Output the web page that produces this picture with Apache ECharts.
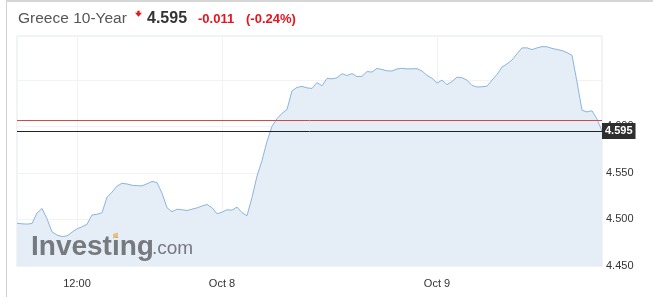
<!DOCTYPE html>
<html>
<head>
<meta charset="utf-8">
<script src="https://cdn.jsdelivr.net/npm/echarts@6/dist/echarts.min.js"></script>
<style>
html,body{margin:0;padding:0;background:#fff;}
#c{width:653px;height:297px;}
</style>
</head>
<body>
<div id="c"></div>
<script>
// ---- data ----
var yieldValues = [
4.4959,4.4953,4.4950,4.4956,4.5069,4.5118,4.5007,4.4867,4.4832,4.4816,
4.4824,4.4862,4.4899,4.4921,4.4948,4.5048,4.5055,4.5072,4.5239,4.5293,
4.5358,4.5388,4.5381,4.5367,4.5363,4.5361,4.5383,4.5408,4.5396,4.5282,
4.5126,4.5083,4.5110,4.5104,4.5096,4.5110,4.5124,4.5144,4.5161,4.5126,
4.5061,4.5078,4.5104,4.5100,4.5133,4.5073,4.5040,4.5236,4.5466,4.5633,
4.5838,4.6000,4.6082,4.6140,4.6181,4.6382,4.6418,4.6429,4.6413,4.6407,
4.6470,4.6435,4.6516,4.6510,4.6521,4.6565,4.6545,4.6567,4.6534,4.6537,
4.6588,4.6583,4.6622,4.6610,4.6596,4.6594,4.6616,4.6623,4.6617,4.6618,
4.6619,4.6594,4.6547,4.6517,4.6464,4.6496,4.6448,4.6481,4.6528,4.6522,
4.6495,4.6439,4.6422,4.6425,4.6431,4.6496,4.6557,4.6637,4.6670,4.6712,
4.6780,4.6842,4.6843,4.6824,4.6842,4.6856,4.6854,4.6837,4.6825,4.6814,
4.6791,4.6763,4.6477,4.6172,4.6155,4.6167,4.6078,4.5950
];
var tickLabels = ['12:00', 'Oct 8', 'Oct 9'];
var tickIndex = [12, 41, 84];
var yTickLabels = ['4.450', '4.500', '4.550', '4.600'];
var lastValue = 4.595;
var prevClose = 4.606;
var titleText = 'Greece 10-Year';
var priceText = '4.595';
var changeText = '-0.011';
var changePctText = '(-0.24%)';

var categories = yieldValues.map(function (v, i) {
  var k = tickIndex.indexOf(i);
  return k >= 0 ? tickLabels[k] : String(i);
});

var FONT = 'Arial, "Liberation Sans", sans-serif';
var chart = echarts.init(document.getElementById('c'), null, {renderer: 'canvas'});
chart.setOption({
  animation: false,
  backgroundColor: '#fff',
  grid: {left: 17, right: 51, top: 36, bottom: 31, show: true, borderColor: '#e3e8ef', borderWidth: 1, backgroundColor: 'transparent'},
  xAxis: {
    type: 'category',
    data: categories,
    boundaryGap: false,
    axisLine: {show: false},
    axisTick: {show: false},
    axisLabel: {
      interval: function (i) { return tickIndex.indexOf(i) >= 0; },
      color: '#333', fontSize: 11, fontFamily: FONT, margin: 12
    },
    splitLine: {
      show: true,
      interval: function (i) { return tickIndex.indexOf(i) >= 0; },
      lineStyle: {color: '#f0f2f5', width: 1}
    }
  },
  yAxis: {
    type: 'value',
    position: 'right',
    min: 4.45,
    max: 4.697,
    interval: 0.05,
    axisLine: {show: false},
    axisTick: {show: false},
    axisLabel: {
      color: '#333', fontSize: 11, fontFamily: FONT, margin: 4,
      formatter: function (v) {
        var s = v.toFixed(3);
        return yTickLabels.indexOf(s) >= 0 ? s : '';
      }
    },
    splitLine: {show: true, lineStyle: {color: '#f0f2f5', width: 1}}
  },
  series: [{
    type: 'line',
    data: yieldValues,
    symbol: 'none',
    smooth: false,
    lineStyle: {color: '#8cb5dd', width: 1},
    areaStyle: {color: '#e5edf6', opacity: 1},
    z: 2,
    markLine: {
      silent: true,
      symbol: 'none',
      animation: false,
      precision: 4,
      lineStyle: {color: '#222', width: 1, type: 'solid'},
      label: {show: true, position: 'end', distance: 0, formatter: priceText,
            color: '#fff', backgroundColor: '#2e2e2e', padding: [3, 3, 2, 3],
            fontSize: 11, fontWeight: 'bold', fontFamily: FONT},
      data: [{yAxis: lastValue}]
    }
  }, {
    type: 'line',
    data: [],
    symbol: 'none',
    z: 3,
    markLine: {
      silent: true,
      symbol: 'none',
      animation: false,
      precision: 4,
      lineStyle: {color: '#d0494b', width: 1, type: 'solid'},
      label: {show: false},
      data: [{yAxis: prevClose}]
    }
  }],
  graphic: [
    {type: 'line', shape: {x1: 6.5, y1: 0, x2: 6.5, y2: 297}, style: {stroke: '#cfcfcf', lineWidth: 1}, z: 10},
    {type: 'line', shape: {x1: 6, y1: 1, x2: 653, y2: 1}, style: {stroke: '#d6d6d6', lineWidth: 2}, z: 10},
    {type: 'text', x: 18, y: 19, z: 10, style: {text: titleText, fontSize: 15.5, fontFamily: FONT, fill: '#555', verticalAlign: 'middle'}},
    {type: 'polygon', z: 10, shape: {points: [[137.3, 10.7], [139.7, 10.7], [139.7, 12.8], [142, 12.8], [138.5, 16.7], [135, 12.8], [137.3, 12.8]]}, style: {fill: '#e8141d'}},
    {type: 'text', x: 147, y: 19, z: 10, style: {text: priceText, fontSize: 16, fontWeight: 'bold', fontFamily: FONT, fill: '#333', verticalAlign: 'middle'}},
    {type: 'text', x: 198, y: 19, z: 10, style: {text: changeText, fontSize: 13, fontWeight: 'bold', fontFamily: FONT, fill: '#e8141d', verticalAlign: 'middle'}},
    {type: 'text', x: 246, y: 19, z: 10, style: {text: changePctText, fontSize: 13, fontWeight: 'bold', fontFamily: FONT, fill: '#e8141d', verticalAlign: 'middle'}},
    {type: 'text', x: 31, y: 247, z: 10, style: {text: 'Investing', fontSize: 28, fontWeight: 'bold', fontFamily: FONT, fill: '#76797e', verticalAlign: 'middle'}},
    {type: 'polygon', z: 11, shape: {points: [[113, 234], [118, 232.5], [118, 237], [113, 238.5]]}, style: {fill: '#e8c27a'}},
    {type: 'text', x: 152, y: 249, z: 10, style: {text: '.com', fontSize: 19, fontFamily: FONT, fill: '#76797e', verticalAlign: 'middle'}}
  ]
});
</script>
</body>
</html>
